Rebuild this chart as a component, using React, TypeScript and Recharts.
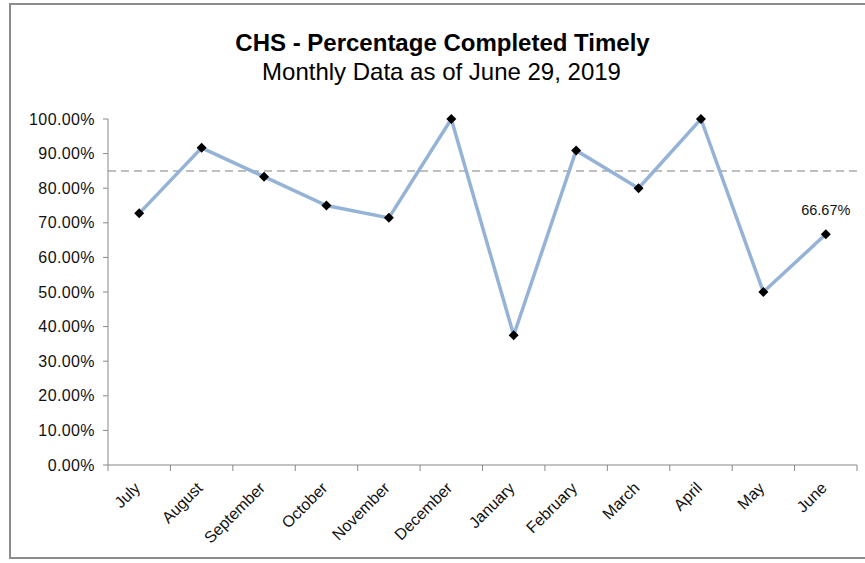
import { LineChart, Line, XAxis, YAxis, ReferenceLine, LabelList } from "recharts"

const months = ["July", "August", "September", "October", "November", "December", "January", "February", "March", "April", "May", "June"]
const completedPct = [72.73, 91.67, 83.33, 75.0, 71.43, 100.0, 37.5, 90.91, 80.0, 100.0, 50.0, 66.67]
const yTicks = [0, 10, 20, 30, 40, 50, 60, 70, 80, 90, 100]
const goalPct = 85

const W = 865
const H = 563
const LEFT = 108
const RIGHT = 8
const STEP = (W - LEFT - RIGHT) / months.length

const data = months.map((m, i) => ({ month: m, pct: completedPct[i] }))

const fontFamily = "'Liberation Sans', Arial, sans-serif"

const Diamond = (props: any) => {
  const { cx, cy } = props
  if (cx == null || cy == null) return null
  const r = 5
  return <polygon points={`${cx},${cy - r} ${cx + r},${cy} ${cx},${cy + r} ${cx - r},${cy}`} fill="#000" />
}

const MonthTick = (props: any) => {
  const { x, y, payload, index } = props
  const half = payload && payload.offset ? payload.offset : STEP / 2
  const last = index === months.length - 1
  return (
    <g>
      <line x1={x - half} y1={y - 8} x2={x - half} y2={y - 2} stroke="#888" />
      {last && <line x1={x + half} y1={y - 8} x2={x + half} y2={y - 2} stroke="#888" />}
      <text
        x={0}
        y={0}
        transform={`translate(${x + 2},${y + 16}) rotate(-45)`}
        textAnchor="end"
        fontSize={16}
        fontFamily={fontFamily}
        fill="#111"
      >
        {payload.value}
      </text>
    </g>
  )
}

const lastLabel = (props: any) => {
  const { x, y, value, index } = props
  if (index !== months.length - 1) return null
  return (
    <text x={x} y={y - 19} textAnchor="middle" fontSize={14.5} fontFamily={fontFamily} fill="#111">
      {value.toFixed(2)}%
    </text>
  )
}

export default function App() {
  return (
    <div style={{ position: "absolute", left: 0, top: 0, width: W, height: H, overflow: "hidden", background: "#fff" }}>
      <div
        style={{
          position: "absolute",
          left: 9,
          top: 3,
          width: W + 20,
          height: 556,
          border: "2px solid #8c8c8c",
          boxSizing: "border-box"
        }}
      />
      <div
        style={{
          position: "absolute",
          left: 0,
          width: W,
          top: 28,
          textAlign: "center",
          fontFamily,
          color: "#000"
        }}
      >
        <div style={{ fontSize: 24, fontWeight: "bold", lineHeight: "30px", marginLeft: 20 }}>
          CHS - Percentage Completed Timely
        </div>
        <div style={{ fontSize: 24, lineHeight: "28px", marginLeft: 18 }}>Monthly Data as of June 29, 2019</div>
      </div>
      <div style={{ position: "absolute", left: 0, top: 0 }}>
        <LineChart width={W} height={H} data={data} margin={{ top: 119, right: RIGHT, left: 0, bottom: 0 }}>
          <XAxis
            dataKey="month"
            scale="band"
            height={98}
            interval={0}
            axisLine={{ stroke: "#888" }}
            tickLine={false}
            tick={<MonthTick />}
          />
          <YAxis
            width={LEFT}
            domain={[0, 100]}
            ticks={yTicks}
            interval={0}
            tickFormatter={(v: number) => `${v.toFixed(2)}%`}
            axisLine={{ stroke: "#888" }}
            tickLine={{ stroke: "#888" }}
            tickSize={5}
            tickMargin={8}
            tick={{ fontSize: 16, fontFamily, fill: "#111", letterSpacing: 0.4 }}
          />
          <ReferenceLine y={goalPct} stroke="#bfbfbf" strokeWidth={2} strokeDasharray="8 5" />
          <Line
            dataKey="pct"
            stroke="#95b3d7"
            strokeWidth={3.5}
            dot={<Diamond />}
            activeDot={false}
            isAnimationActive={false}
          >
            <LabelList dataKey="pct" content={lastLabel} />
          </Line>
        </LineChart>
      </div>
    </div>
  )
}
